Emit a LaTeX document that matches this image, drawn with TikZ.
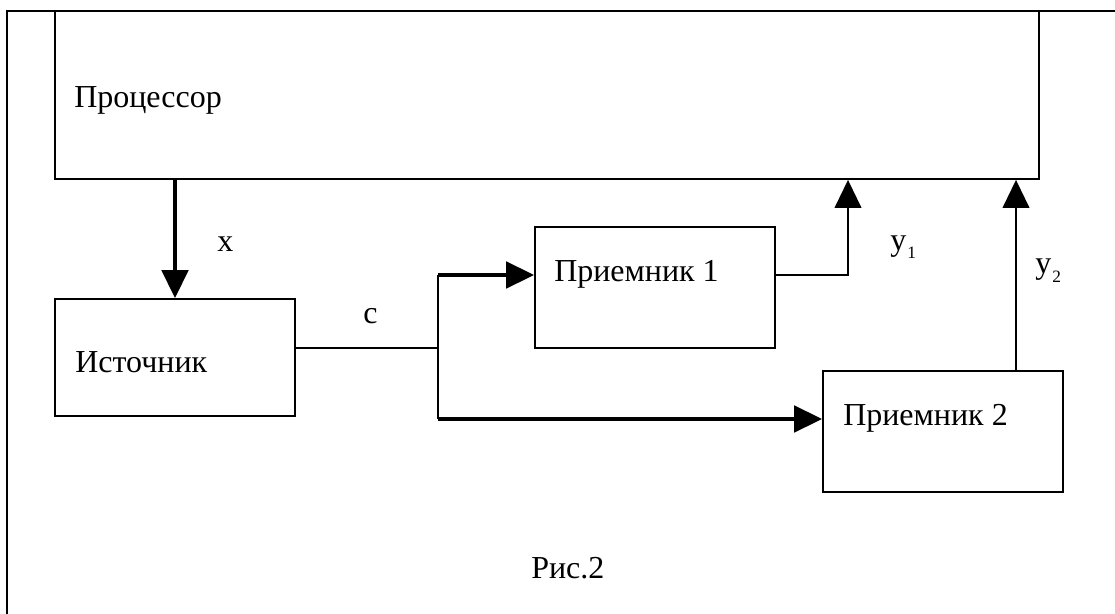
\documentclass[tikz,border=0pt]{standalone}
\usepackage{fontspec}
\setmainfont{Liberation Serif}
\usetikzlibrary{arrows.meta,fit}
\begin{document}
\begin{tikzpicture}[x=0.75pt,y=-0.75pt,
  box/.style={draw=black,line width=1.4pt,inner sep=0pt},
  lbl/.style={anchor=base west,inner sep=0pt,font=\fontsize{24pt}{28pt}\selectfont},
  subl/.style={anchor=base west,inner sep=0pt,font=\fontsize{13pt}{15pt}\selectfont},
  thinline/.style={line width=1.4pt},
  thinarrow/.style={line width=1.4pt,-{Triangle[length=21pt,width=20pt]}},
  thickarrow/.style={line width=2.3pt,-{Triangle[length=21pt,width=20pt]}}]
\useasboundingbox (0,0) rectangle (1115,614);
% outer frame (clipped)
\draw[line width=1.6pt] (7,614) -- (7,11) -- (1115,11);
% boxes
\node[box,fit={(55,11) (1039,179)}] (proc) {};
\node[box,fit={(55,299) (295,416)}] (src) {};
\node[box,fit={(535,227) (775,348)}] (rx1) {};
\node[box,fit={(823,371) (1063,492)}] (rx2) {};
% texts
\node[lbl] (tproc) at (74,107) {Процессор};
\node[lbl] (tsrc) at (75,372) {Источник};
\node[lbl] (trx1) at (554,281) {Приемник 1};
\node[lbl] (trx2) at (843,425) {Приемник 2};
\node[lbl] (lx) at (217,251) {x};
\node[lbl] (lc) at (363,323) {c};
\node[lbl] (ly1) at (890,250) {у};
\node[subl] (ly1s) at (907,258) {1};
\node[lbl] (ly2) at (1035,273) {у};
\node[subl] (ly2s) at (1052,282) {2};
\node[lbl] (cap) at (531,578) {Рис.2};
% junction coordinates
\coordinate (split) at (438,348);
\coordinate (b1) at (438,275);
\coordinate (b2) at (438,419);
\coordinate (t1) at (848,275);
\coordinate (t2) at (1016,371);
% connectors
\draw[thickarrow] (proc.south -| src.north) -- (src.north);
\draw[thinline] (src.east |- split) -- (split);
\draw[thinline] (b1) -- (b2);
\draw[thickarrow] (b1) -- (b1 -| rx1.west);
\draw[thickarrow] (b2) -- (b2 -| rx2.west);
\draw[thinarrow] (b1 -| rx1.east) -- (t1) -- (t1 |- proc.south);
\draw[thinarrow] (t2) -- (t2 |- proc.south);
\end{tikzpicture}
\end{document}
